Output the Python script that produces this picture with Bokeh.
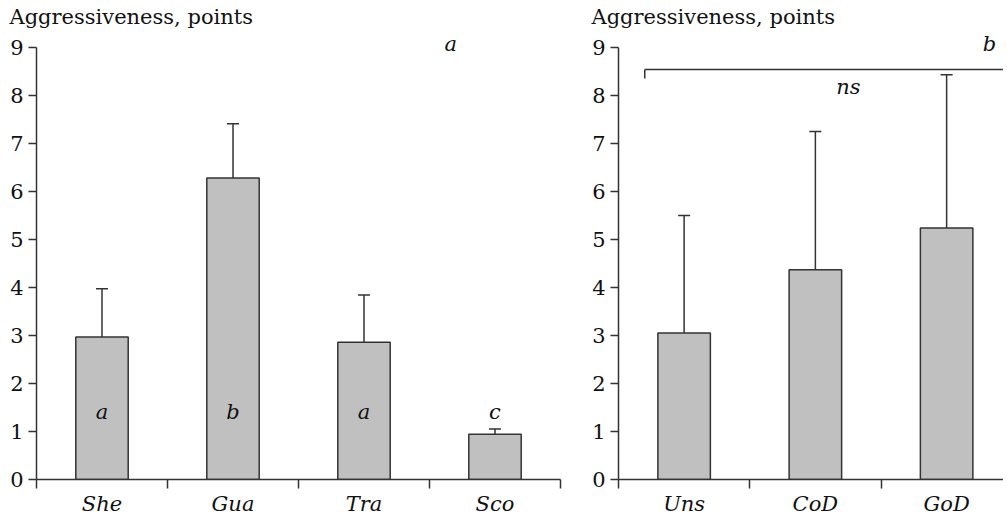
from bokeh.plotting import figure
from bokeh.models import Range1d, FixedTicker, Label, ColumnDataSource, Title
from bokeh.layouts import row
from bokeh.embed import file_html
from bokeh.resources import INLINE

# ---------------- data ----------------
left_groups = ["She", "Gua", "Tra", "Sco"]
left_means = [2.97, 6.28, 2.86, 0.94]
left_upper = [3.97, 7.41, 3.84, 1.05]
left_letters = ["a", "b", "a", "c"]

right_groups = ["Uns", "CoD", "GoD"]
right_means = [3.05, 4.37, 5.24]
right_upper = [5.5, 7.25, 8.43]

y_label = "Aggressiveness, points"
y_ticks = list(range(0, 10))
panel_letters = ["a", "b"]
ns_text = "ns"

FONT = "DejaVu Serif"
DARK = "#333333"
BAR = "#c0c0c0"
FS = "21px"
TXT = "#111111"

Y_MAX = 9.33
SCALE_Y = 48.0   # px per unit (for placing text only)
SCALE_X = 131.25


def make_panel(groups, means, upper, width, x_end, letter, letter_x, right_border):
    n = len(groups)
    centers = [i + 0.5 for i in range(n)]
    p = figure(width=width, height=518, output_backend="svg", toolbar_location=None,
               x_range=Range1d(0, x_end), y_range=Range1d(0, Y_MAX),
               min_border_left=36 if right_border else 29, min_border_right=right_border,
               min_border_top=0, min_border_bottom=10)
    p.outline_line_color = None
    p.grid.visible = False
    p.background_fill_color = "white"
    p.border_fill_color = "white"

    t = Title(text=y_label, align="left", offset=-27, text_font=FONT,
              text_font_size=FS, text_font_style="normal", text_color=TXT,
              standoff=5)
    p.add_layout(t, "above")

    src = ColumnDataSource(dict(x=centers, top=means, upper=upper, name=groups))
    p.vbar(x="x", top="top", width=0.4, source=src, fill_color=BAR,
           line_color=DARK, line_width=1.5)
    p.segment(x0="x", y0="top", x1="x", y1="upper", source=src,
              line_color=DARK, line_width=1.5)
    p.scatter(x="x", y="upper", source=src, marker="dash", size=12,
              line_color=DARK, line_width=1.5)

    ya = p.yaxis[0]
    ya.ticker = FixedTicker(ticks=y_ticks)
    ya.bounds = (0, 9)
    ya.axis_line_color = DARK
    ya.axis_line_width = 1.5
    ya.major_tick_line_color = DARK
    ya.major_tick_line_width = 1.5
    ya.major_tick_in = 0
    ya.major_tick_out = 8
    ya.minor_tick_line_color = None
    ya.major_label_text_font = FONT
    ya.major_label_text_font_size = FS
    ya.major_label_text_color = TXT
    ya.major_label_standoff = 5

    xa = p.xaxis[0]
    xa.ticker = FixedTicker(ticks=centers, minor_ticks=list(range(n + 1)))
    xa.major_label_overrides = {c: g for c, g in zip(centers, groups)}
    xa.axis_line_color = DARK
    xa.axis_line_width = 1.5
    xa.major_tick_line_color = None
    xa.major_tick_in = 0
    xa.major_tick_out = 0
    xa.minor_tick_line_color = DARK
    xa.minor_tick_line_width = 1.5
    xa.minor_tick_in = 0
    xa.minor_tick_out = 9
    xa.major_label_text_font = FONT
    xa.major_label_text_font_size = FS
    xa.major_label_text_font_style = "italic"
    xa.major_label_text_color = TXT
    xa.major_label_standoff = 3

    p.add_layout(Label(x=letter_x, y=(480 - 45) / SCALE_Y, text=letter,
                       text_font=FONT, text_font_size=FS, text_font_style="italic",
                       text_align="center", text_baseline="middle",
                       text_color=TXT))
    return p, centers


p1, c1 = make_panel(left_groups, left_means, left_upper, 589, 4.0,
                    panel_letters[0], (452 - 37) / SCALE_X, 29)
let_src = ColumnDataSource(dict(x=c1, y=[1.4] * len(c1), t=left_letters))
p1.text(x="x", y="y", text="t", source=let_src, text_font={"value": FONT},
        text_font_size={"value": FS}, text_font_style="italic",
        text_align="center", text_baseline="middle", text_color=TXT)

x_end_r = (1004 - 619) / SCALE_X
p2, c2 = make_panel(right_groups, right_means, right_upper, 414, x_end_r,
                    panel_letters[1], (990 - 619) / SCALE_X, 0)
br_y = 8.54
p2.segment(x0=[0.2], y0=[br_y], x1=[x_end_r], y1=[br_y], line_color=DARK, line_width=1.5)
p2.segment(x0=[0.2], y0=[br_y], x1=[0.2], y1=[8.35], line_color=DARK, line_width=1.5)
p2.add_layout(Label(x=(849 - 619) / SCALE_X, y=(480 - 88) / SCALE_Y, text=ns_text,
                    text_font=FONT, text_font_size=FS, text_font_style="italic",
                    text_align="center", text_baseline="middle", text_color=TXT))

layout = row(p1, p2)
open("out.html", "w").write(file_html(layout, INLINE))
